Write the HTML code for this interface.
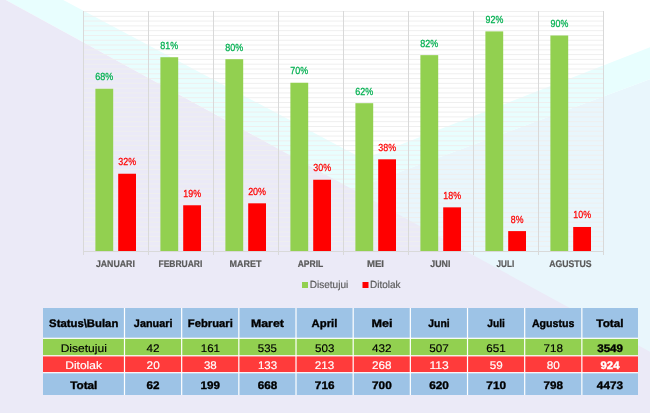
<!DOCTYPE html>
<html><head><meta charset="utf-8"><title>Status Bulan</title><style>
*{margin:0;padding:0}
html,body{width:650px;height:413px;overflow:hidden;background:#fff}
svg text{font-family:"Liberation Sans",Arial,sans-serif;text-rendering:geometricPrecision}
</style></head>
<body>
<svg width="650" height="413" viewBox="0 0 650 413" style="position:absolute;left:0;top:0;filter:blur(0.3px)">
<rect width="650" height="413" fill="#ffffff"/>
<polygon fill="#e9f6fc" points="650,79.3 0,319.8 0,413 650,413"/>
<polygon fill="#e8fefe" points="650,47.3 0,300.8 0,319.8 650,79.3"/>
<polygon fill="#e8fefe" points="63.2,0 5.8,0 352.6,189.3 392.6,174.6"/>
<polygon fill="#ebeaf7" points="5.8,0 650,351.7 650,413 0,413 0,0"/>
<rect x="83" y="245.71" width="520" height="1" fill="#efefef"/>
<rect x="83" y="240.92" width="520" height="1" fill="#efefef"/>
<rect x="83" y="236.13" width="520" height="1" fill="#efefef"/>
<rect x="83" y="231.34" width="520" height="1" fill="#efefef"/>
<rect x="83" y="226.55" width="520" height="1" fill="#efefef"/>
<rect x="83" y="221.76" width="520" height="1" fill="#efefef"/>
<rect x="83" y="216.97" width="520" height="1" fill="#efefef"/>
<rect x="83" y="212.18" width="520" height="1" fill="#efefef"/>
<rect x="83" y="207.39" width="520" height="1" fill="#efefef"/>
<rect x="83" y="202.60" width="520" height="1" fill="#efefef"/>
<rect x="83" y="197.81" width="520" height="1" fill="#efefef"/>
<rect x="83" y="193.02" width="520" height="1" fill="#efefef"/>
<rect x="83" y="188.23" width="520" height="1" fill="#efefef"/>
<rect x="83" y="183.44" width="520" height="1" fill="#efefef"/>
<rect x="83" y="178.65" width="520" height="1" fill="#efefef"/>
<rect x="83" y="173.86" width="520" height="1" fill="#efefef"/>
<rect x="83" y="169.07" width="520" height="1" fill="#efefef"/>
<rect x="83" y="164.28" width="520" height="1" fill="#efefef"/>
<rect x="83" y="159.49" width="520" height="1" fill="#efefef"/>
<rect x="83" y="154.70" width="520" height="1" fill="#efefef"/>
<rect x="83" y="149.91" width="520" height="1" fill="#efefef"/>
<rect x="83" y="145.12" width="520" height="1" fill="#efefef"/>
<rect x="83" y="140.33" width="520" height="1" fill="#efefef"/>
<rect x="83" y="135.54" width="520" height="1" fill="#efefef"/>
<rect x="83" y="130.75" width="520" height="1" fill="#efefef"/>
<rect x="83" y="125.96" width="520" height="1" fill="#efefef"/>
<rect x="83" y="121.17" width="520" height="1" fill="#efefef"/>
<rect x="83" y="116.38" width="520" height="1" fill="#efefef"/>
<rect x="83" y="111.59" width="520" height="1" fill="#efefef"/>
<rect x="83" y="106.80" width="520" height="1" fill="#efefef"/>
<rect x="83" y="102.01" width="520" height="1" fill="#efefef"/>
<rect x="83" y="97.22" width="520" height="1" fill="#efefef"/>
<rect x="83" y="92.43" width="520" height="1" fill="#efefef"/>
<rect x="83" y="87.64" width="520" height="1" fill="#efefef"/>
<rect x="83" y="82.85" width="520" height="1" fill="#efefef"/>
<rect x="83" y="78.06" width="520" height="1" fill="#efefef"/>
<rect x="83" y="73.27" width="520" height="1" fill="#efefef"/>
<rect x="83" y="68.48" width="520" height="1" fill="#efefef"/>
<rect x="83" y="63.69" width="520" height="1" fill="#efefef"/>
<rect x="83" y="58.90" width="520" height="1" fill="#efefef"/>
<rect x="83" y="54.11" width="520" height="1" fill="#efefef"/>
<rect x="83" y="49.32" width="520" height="1" fill="#efefef"/>
<rect x="83" y="44.53" width="520" height="1" fill="#efefef"/>
<rect x="83" y="39.74" width="520" height="1" fill="#efefef"/>
<rect x="83" y="34.95" width="520" height="1" fill="#efefef"/>
<rect x="83" y="30.16" width="520" height="1" fill="#efefef"/>
<rect x="83" y="25.37" width="520" height="1" fill="#efefef"/>
<rect x="83" y="20.58" width="520" height="1" fill="#efefef"/>
<rect x="83" y="15.79" width="520" height="1" fill="#efefef"/>
<rect x="83" y="11.00" width="520" height="1" fill="#efefef"/>
<rect x="83" y="11" width="1" height="244" fill="#d9d9d9"/>
<rect x="148" y="11" width="1" height="244" fill="#d9d9d9"/>
<rect x="213" y="11" width="1" height="244" fill="#d9d9d9"/>
<rect x="278" y="11" width="1" height="244" fill="#d9d9d9"/>
<rect x="343" y="11" width="1" height="244" fill="#d9d9d9"/>
<rect x="408" y="11" width="1" height="244" fill="#d9d9d9"/>
<rect x="473" y="11" width="1" height="244" fill="#d9d9d9"/>
<rect x="538" y="11" width="1" height="244" fill="#d9d9d9"/>
<rect x="603" y="11" width="1" height="244" fill="#d9d9d9"/>
<rect x="83" y="251" width="521" height="1" fill="#d9d9d9"/>
<rect x="95.40" y="88.76" width="17.8" height="162.24" fill="#92d050"/>
<rect x="118.20" y="173.74" width="17.8" height="77.26" fill="#ff0000"/>
<text x="95.32" y="80.26" font-size="10.30" stroke="#00b050" stroke-width="0.25" fill="#00b050" textLength="17.95" lengthAdjust="spacingAndGlyphs">68%</text>
<text x="118.26" y="165.24" font-size="10.30" stroke="#ff0000" stroke-width="0.25" fill="#ff0000" textLength="17.82" lengthAdjust="spacingAndGlyphs">32%</text>
<text x="95.91" y="266.90" font-size="9.60" font-weight="bold" stroke="#595959" stroke-width="0.2" fill="#595959" textLength="38.97" lengthAdjust="spacingAndGlyphs">JANUARI</text>
<rect x="160.40" y="57.23" width="17.8" height="193.77" fill="#92d050"/>
<rect x="183.20" y="205.27" width="17.8" height="45.73" fill="#ff0000"/>
<text x="160.34" y="48.73" font-size="10.30" stroke="#00b050" stroke-width="0.25" fill="#00b050" textLength="17.93" lengthAdjust="spacingAndGlyphs">81%</text>
<text x="183.34" y="196.77" font-size="10.30" stroke="#ff0000" stroke-width="0.25" fill="#ff0000" textLength="17.73" lengthAdjust="spacingAndGlyphs">19%</text>
<text x="158.45" y="266.90" font-size="9.60" font-weight="bold" stroke="#595959" stroke-width="0.2" fill="#595959" textLength="43.93" lengthAdjust="spacingAndGlyphs">FEBRUARI</text>
<rect x="225.40" y="59.18" width="17.8" height="191.82" fill="#92d050"/>
<rect x="248.20" y="203.32" width="17.8" height="47.68" fill="#ff0000"/>
<text x="225.34" y="50.68" font-size="10.30" stroke="#00b050" stroke-width="0.25" fill="#00b050" textLength="17.93" lengthAdjust="spacingAndGlyphs">80%</text>
<text x="248.13" y="194.82" font-size="10.30" stroke="#ff0000" stroke-width="0.25" fill="#ff0000" textLength="17.94" lengthAdjust="spacingAndGlyphs">20%</text>
<text x="229.58" y="266.90" font-size="9.60" font-weight="bold" stroke="#595959" stroke-width="0.2" fill="#595959" textLength="31.96" lengthAdjust="spacingAndGlyphs">MARET</text>
<rect x="290.40" y="82.75" width="17.8" height="168.25" fill="#92d050"/>
<rect x="313.20" y="179.75" width="17.8" height="71.25" fill="#ff0000"/>
<text x="290.35" y="74.25" font-size="10.30" stroke="#00b050" stroke-width="0.25" fill="#00b050" textLength="17.92" lengthAdjust="spacingAndGlyphs">70%</text>
<text x="313.26" y="171.25" font-size="10.30" stroke="#ff0000" stroke-width="0.25" fill="#ff0000" textLength="17.82" lengthAdjust="spacingAndGlyphs">30%</text>
<text x="297.64" y="266.90" font-size="9.60" font-weight="bold" stroke="#595959" stroke-width="0.2" fill="#595959" textLength="25.62" lengthAdjust="spacingAndGlyphs">APRIL</text>
<rect x="355.40" y="103.19" width="17.8" height="147.81" fill="#92d050"/>
<rect x="378.20" y="159.31" width="17.8" height="91.69" fill="#ff0000"/>
<text x="355.32" y="94.69" font-size="10.30" stroke="#00b050" stroke-width="0.25" fill="#00b050" textLength="17.95" lengthAdjust="spacingAndGlyphs">62%</text>
<text x="378.26" y="150.81" font-size="10.30" stroke="#ff0000" stroke-width="0.25" fill="#ff0000" textLength="17.82" lengthAdjust="spacingAndGlyphs">38%</text>
<text x="366.95" y="266.90" font-size="9.60" font-weight="bold" stroke="#595959" stroke-width="0.2" fill="#595959" textLength="17.10" lengthAdjust="spacingAndGlyphs">MEI</text>
<rect x="420.40" y="55.15" width="17.8" height="195.85" fill="#92d050"/>
<rect x="443.20" y="207.35" width="17.8" height="43.65" fill="#ff0000"/>
<text x="420.34" y="46.65" font-size="10.30" stroke="#00b050" stroke-width="0.25" fill="#00b050" textLength="17.93" lengthAdjust="spacingAndGlyphs">82%</text>
<text x="443.34" y="198.85" font-size="10.30" stroke="#ff0000" stroke-width="0.25" fill="#ff0000" textLength="17.73" lengthAdjust="spacingAndGlyphs">18%</text>
<text x="430.32" y="266.90" font-size="9.60" font-weight="bold" stroke="#595959" stroke-width="0.2" fill="#595959" textLength="20.16" lengthAdjust="spacingAndGlyphs">JUNI</text>
<rect x="485.40" y="31.40" width="17.8" height="219.60" fill="#92d050"/>
<rect x="508.20" y="231.10" width="17.8" height="19.90" fill="#ff0000"/>
<text x="485.56" y="22.90" font-size="10.30" stroke="#00b050" stroke-width="0.25" fill="#00b050" textLength="17.71" lengthAdjust="spacingAndGlyphs">92%</text>
<text x="510.78" y="222.60" font-size="10.30" stroke="#ff0000" stroke-width="0.25" fill="#ff0000" textLength="12.65" lengthAdjust="spacingAndGlyphs">8%</text>
<text x="496.58" y="266.90" font-size="9.60" font-weight="bold" stroke="#595959" stroke-width="0.2" fill="#595959" textLength="17.60" lengthAdjust="spacingAndGlyphs">JULI</text>
<rect x="550.40" y="35.51" width="17.8" height="215.49" fill="#92d050"/>
<rect x="573.20" y="226.99" width="17.8" height="24.01" fill="#ff0000"/>
<text x="550.56" y="27.01" font-size="10.30" stroke="#00b050" stroke-width="0.25" fill="#00b050" textLength="17.71" lengthAdjust="spacingAndGlyphs">90%</text>
<text x="573.34" y="218.49" font-size="10.30" stroke="#ff0000" stroke-width="0.25" fill="#ff0000" textLength="17.73" lengthAdjust="spacingAndGlyphs">10%</text>
<text x="549.16" y="266.90" font-size="9.60" font-weight="bold" stroke="#595959" stroke-width="0.2" fill="#595959" textLength="42.50" lengthAdjust="spacingAndGlyphs">AGUSTUS</text>
<rect x="302" y="282" width="6" height="6" fill="#92d050"/>
<text x="309.67" y="287.60" font-size="10.40" stroke="#595959" stroke-width="0.15" fill="#595959" textLength="38.58" lengthAdjust="spacingAndGlyphs">Disetujui</text>
<rect x="362.5" y="282" width="6" height="6" fill="#ff0000"/>
<text x="369.95" y="287.60" font-size="10.40" stroke="#595959" stroke-width="0.15" fill="#595959" textLength="30.66" lengthAdjust="spacingAndGlyphs">Ditolak</text>
<rect x="43" y="308" width="595" height="30.30000000000001" fill="#9dc3e6"/>
<rect x="43" y="338.3" width="595" height="17.5" fill="#92d050"/>
<rect x="43" y="355.8" width="595" height="16.899999999999977" fill="#ff3b3b"/>
<rect x="43" y="372.7" width="595" height="22.30000000000001" fill="#9dc3e6"/>
<rect x="43" y="337.70" width="595" height="1.2" fill="#ffffff"/>
<rect x="43" y="355.20" width="595" height="1.2" fill="#ffffff"/>
<rect x="43" y="372.10" width="595" height="1.2" fill="#ffffff"/>
<rect x="123.90" y="308" width="1.2" height="87" fill="#ffffff"/>
<rect x="181.07" y="308" width="1.2" height="87" fill="#ffffff"/>
<rect x="238.24" y="308" width="1.2" height="87" fill="#ffffff"/>
<rect x="295.41" y="308" width="1.2" height="87" fill="#ffffff"/>
<rect x="352.58" y="308" width="1.2" height="87" fill="#ffffff"/>
<rect x="409.75" y="308" width="1.2" height="87" fill="#ffffff"/>
<rect x="466.92" y="308" width="1.2" height="87" fill="#ffffff"/>
<rect x="524.09" y="308" width="1.2" height="87" fill="#ffffff"/>
<rect x="581.26" y="308" width="1.2" height="87" fill="#ffffff"/>
<text x="49.11" y="327.20" font-size="11.00" font-weight="bold" stroke="#000" stroke-width="0.35" fill="#000" textLength="69.22" lengthAdjust="spacingAndGlyphs">Status\Bulan</text>
<text x="60.67" y="352.00" font-size="11.00" stroke="#000" stroke-width="0.15" fill="#000" textLength="46.15" lengthAdjust="spacingAndGlyphs">Disetujui</text>
<text x="65.27" y="369.10" font-size="11.00" stroke="#fff" stroke-width="0.15" fill="#fff" textLength="36.68" lengthAdjust="spacingAndGlyphs">Ditolak</text>
<text x="70.18" y="388.60" font-size="11.00" font-weight="bold" stroke="#000" stroke-width="0.35" fill="#000" textLength="27.16" lengthAdjust="spacingAndGlyphs">Total</text>
<text x="133.86" y="327.20" font-size="11.00" font-weight="bold" stroke="#000" stroke-width="0.35" fill="#000" textLength="38.57" lengthAdjust="spacingAndGlyphs">Januari</text>
<text x="146.55" y="352.00" font-size="11.00" stroke="#000" stroke-width="0.15" fill="#000" textLength="13.07" lengthAdjust="spacingAndGlyphs">42</text>
<text x="146.58" y="369.10" font-size="11.00" stroke="#fff" stroke-width="0.15" fill="#fff" textLength="13.12" lengthAdjust="spacingAndGlyphs">20</text>
<text x="146.59" y="388.60" font-size="11.00" font-weight="bold" stroke="#000" stroke-width="0.35" fill="#000" textLength="13.01" lengthAdjust="spacingAndGlyphs">62</text>
<text x="187.88" y="327.20" font-size="11.00" font-weight="bold" stroke="#000" stroke-width="0.35" fill="#000" textLength="44.90" lengthAdjust="spacingAndGlyphs">Februari</text>
<text x="200.75" y="352.00" font-size="11.00" stroke="#000" stroke-width="0.15" fill="#000" textLength="19.22" lengthAdjust="spacingAndGlyphs">161</text>
<text x="203.92" y="369.10" font-size="11.00" stroke="#fff" stroke-width="0.15" fill="#fff" textLength="12.81" lengthAdjust="spacingAndGlyphs">38</text>
<text x="200.64" y="388.60" font-size="11.00" font-weight="bold" stroke="#000" stroke-width="0.35" fill="#000" textLength="19.50" lengthAdjust="spacingAndGlyphs">199</text>
<text x="251.00" y="327.20" font-size="11.00" font-weight="bold" stroke="#000" stroke-width="0.35" fill="#000" textLength="32.86" lengthAdjust="spacingAndGlyphs">Maret</text>
<text x="257.82" y="352.00" font-size="11.00" stroke="#000" stroke-width="0.15" fill="#000" textLength="19.06" lengthAdjust="spacingAndGlyphs">535</text>
<text x="257.92" y="369.10" font-size="11.00" stroke="#fff" stroke-width="0.15" fill="#fff" textLength="19.25" lengthAdjust="spacingAndGlyphs">133</text>
<text x="257.69" y="388.60" font-size="11.00" font-weight="bold" stroke="#000" stroke-width="0.35" fill="#000" textLength="19.45" lengthAdjust="spacingAndGlyphs">668</text>
<text x="311.61" y="327.20" font-size="11.00" font-weight="bold" stroke="#000" stroke-width="0.35" fill="#000" textLength="25.74" lengthAdjust="spacingAndGlyphs">April</text>
<text x="314.98" y="352.00" font-size="11.00" stroke="#000" stroke-width="0.15" fill="#000" textLength="19.37" lengthAdjust="spacingAndGlyphs">503</text>
<text x="314.85" y="369.10" font-size="11.00" stroke="#fff" stroke-width="0.15" fill="#fff" textLength="19.50" lengthAdjust="spacingAndGlyphs">213</text>
<text x="314.87" y="388.60" font-size="11.00" font-weight="bold" stroke="#000" stroke-width="0.35" fill="#000" textLength="19.60" lengthAdjust="spacingAndGlyphs">716</text>
<text x="371.40" y="327.20" font-size="11.00" font-weight="bold" stroke="#000" stroke-width="0.35" fill="#000" textLength="21.06" lengthAdjust="spacingAndGlyphs">Mei</text>
<text x="371.98" y="352.00" font-size="11.00" stroke="#000" stroke-width="0.15" fill="#000" textLength="19.56" lengthAdjust="spacingAndGlyphs">432</text>
<text x="372.02" y="369.10" font-size="11.00" stroke="#fff" stroke-width="0.15" fill="#fff" textLength="19.47" lengthAdjust="spacingAndGlyphs">268</text>
<text x="372.04" y="388.60" font-size="11.00" font-weight="bold" stroke="#000" stroke-width="0.35" fill="#000" textLength="19.68" lengthAdjust="spacingAndGlyphs">700</text>
<text x="428.31" y="327.20" font-size="11.00" font-weight="bold" stroke="#000" stroke-width="0.35" fill="#000" textLength="21.34" lengthAdjust="spacingAndGlyphs">Juni</text>
<text x="429.32" y="352.00" font-size="11.00" stroke="#000" stroke-width="0.15" fill="#000" textLength="19.53" lengthAdjust="spacingAndGlyphs">507</text>
<text x="429.43" y="369.10" font-size="11.00" stroke="#fff" stroke-width="0.15" fill="#fff" textLength="19.25" lengthAdjust="spacingAndGlyphs">113</text>
<text x="429.19" y="388.60" font-size="11.00" font-weight="bold" stroke="#000" stroke-width="0.35" fill="#000" textLength="19.70" lengthAdjust="spacingAndGlyphs">620</text>
<text x="487.34" y="327.20" font-size="11.00" font-weight="bold" stroke="#000" stroke-width="0.35" fill="#000" textLength="17.60" lengthAdjust="spacingAndGlyphs">Juli</text>
<text x="486.36" y="352.00" font-size="11.00" stroke="#000" stroke-width="0.15" fill="#000" textLength="19.48" lengthAdjust="spacingAndGlyphs">651</text>
<text x="489.73" y="369.10" font-size="11.00" stroke="#fff" stroke-width="0.15" fill="#fff" textLength="12.98" lengthAdjust="spacingAndGlyphs">59</text>
<text x="486.38" y="388.60" font-size="11.00" font-weight="bold" stroke="#000" stroke-width="0.35" fill="#000" textLength="19.68" lengthAdjust="spacingAndGlyphs">710</text>
<text x="531.93" y="327.20" font-size="11.00" font-weight="bold" stroke="#000" stroke-width="0.35" fill="#000" textLength="42.56" lengthAdjust="spacingAndGlyphs">Agustus</text>
<text x="543.56" y="352.00" font-size="11.00" stroke="#000" stroke-width="0.15" fill="#000" textLength="19.44" lengthAdjust="spacingAndGlyphs">718</text>
<text x="546.79" y="369.10" font-size="11.00" stroke="#fff" stroke-width="0.15" fill="#fff" textLength="13.10" lengthAdjust="spacingAndGlyphs">80</text>
<text x="543.56" y="388.60" font-size="11.00" font-weight="bold" stroke="#000" stroke-width="0.35" fill="#000" textLength="19.43" lengthAdjust="spacingAndGlyphs">798</text>
<text x="596.36" y="327.20" font-size="11.00" font-weight="bold" stroke="#000" stroke-width="0.35" fill="#000" textLength="27.16" lengthAdjust="spacingAndGlyphs">Total</text>
<text x="597.16" y="352.00" font-size="11.00" font-weight="bold" stroke="#000" stroke-width="0.35" fill="#000" textLength="25.90" lengthAdjust="spacingAndGlyphs">3549</text>
<text x="600.50" y="369.10" font-size="11.00" font-weight="bold" stroke="#fff" stroke-width="0.35" fill="#fff" textLength="19.03" lengthAdjust="spacingAndGlyphs">924</text>
<text x="596.87" y="388.60" font-size="11.00" font-weight="bold" stroke="#000" stroke-width="0.35" fill="#000" textLength="26.10" lengthAdjust="spacingAndGlyphs">4473</text>
</svg>
</body></html>
